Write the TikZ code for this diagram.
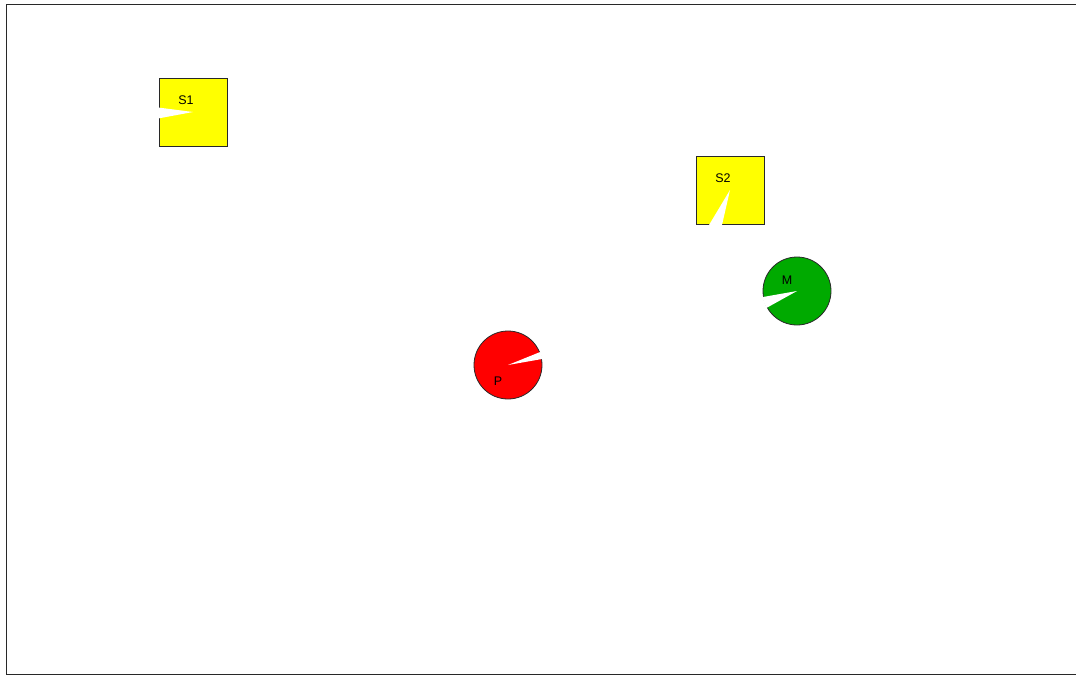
\documentclass[tikz,border=0pt]{standalone}
\usepackage{fontspec}
\setmainfont{Liberation Sans}
\definecolor{sgreen}{RGB}{0,170,0}
\definecolor{syellow}{RGB}{255,255,0}
\definecolor{sred}{RGB}{255,0,0}
\definecolor{edge}{RGB}{40,40,40}
\tikzset{
  sq/.style={draw=edge, line width=0.8pt, minimum size=68pt, inner sep=0pt, fill=syellow},
  ag/.style={draw=edge, line width=0.8pt, circle, minimum size=68pt, inner sep=0pt},
  lbl/.style={font=\fontsize{12.5}{14}\selectfont, inner sep=0pt},
  gap/.style={fill=white, draw=none},
  frame/.style={draw=edge, line width=0.9pt}
}
\begin{document}
\begin{tikzpicture}[x=1pt,y=-1pt]
\useasboundingbox (0,0) rectangle (1076,675);
\fill[white] (0,0) rectangle (1076,675);
\draw[frame] (1076,4.5) -- (6,4.5) -- (6,674) -- (1076,674);
% S1
\node[sq] (s1) at (193,112) {};
\fill[gap] (s1.center) -- (158,107.5) -- (158,118.5) -- cycle;
\node[lbl] (s1l) at (186,100.5) {S1};
% S2
\node[sq] (s2) at (730,190) {};
\fill[gap] (s2.center) -- (709,225) -- (722,225) -- cycle;
\node[lbl] (s2l) at (723,178.5) {S2};
% M
\node[ag, fill=sgreen] (m) at (797,291) {};
\fill[gap] (m.center) -- ++(170:35) arc[start angle=170, end angle=151, radius=35] -- cycle;
\node[lbl] (ml) at (787,280) {M};
% P
\node[ag, fill=sred] (p) at (508,365) {};
\fill[gap] (p.center) -- ++(-10:35) arc[start angle=-10, end angle=-22, radius=35] -- cycle;
\node[lbl] (pl) at (498,381) {P};
\end{tikzpicture}
\end{document}
